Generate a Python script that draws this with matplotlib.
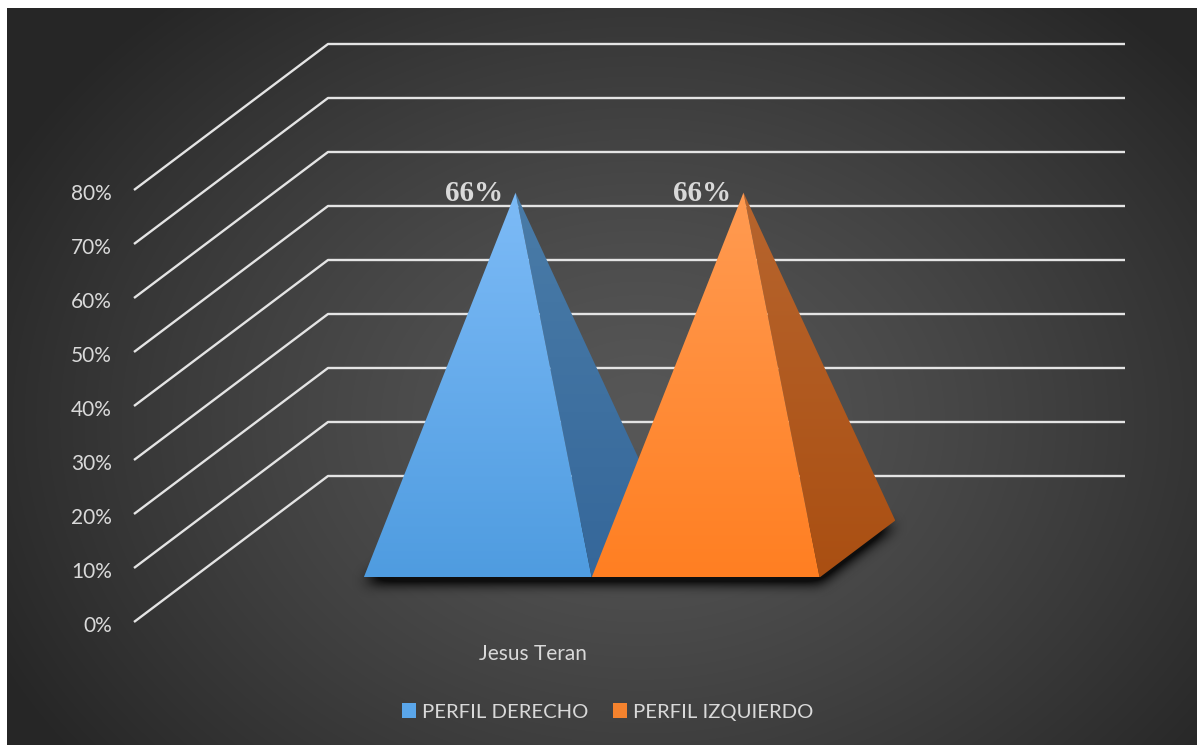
import numpy as np
import matplotlib.pyplot as plt
from matplotlib.path import Path
from matplotlib.patches import Polygon, Rectangle

W, H = 1197, 745

categories = ["Jesus Teran"]
series = ["PERFIL DERECHO", "PERFIL IZQUIERDO"]
values = [0.66, 0.66]
ticks = [0.0, 0.1, 0.2, 0.3, 0.4, 0.5, 0.6, 0.7, 0.8]
tick_labels = ["0%", "10%", "20%", "30%", "40%", "50%", "60%", "70%", "80%"]

# face colours: (top, bottom) for front and side faces
front_cols = [("#7dbbf7", "#4f9ce0"), ("#ff9b52", "#ff7f22")]
side_cols = [("#4a7ca8", "#35679a"), ("#b7652e", "#aa4f12")]
legend_cols = ["#5aa6ea", "#f5832e"]

txt_col = "#d9d9d9"
grid_col = "#e4e4e4"

# oblique 3d frame (pixel space)
x0, y0 = 134, 622          # front-left floor corner
dep = (194, -146)          # depth vector
floor_w = 797              # width along category axis
vscale = 540               # pixels per 1.0 of value

pyr_w = 0.286              # pyramid base width, fraction of floor width
pyr_d = 0.39               # pyramid base depth, fraction of floor depth


def proj(u, d, v):
    return (x0 + u * floor_w + d * dep[0],
            y0 - v * vscale + d * dep[1])


def gradient_fill(ax, pts, top, bottom, z):
    pts = np.array(pts)
    xa, xb = pts[:, 0].min(), pts[:, 0].max()
    ya, yb = pts[:, 1].min(), pts[:, 1].max()
    c1 = np.array(plt.matplotlib.colors.to_rgb(top))
    c2 = np.array(plt.matplotlib.colors.to_rgb(bottom))
    t = np.linspace(0, 1, 200)[:, None]
    img = (c1 * (1 - t) + c2 * t)[:, None, :]
    im = ax.imshow(img, extent=(xa, xb, yb, ya), aspect='auto',
                   zorder=z, interpolation='bilinear')
    poly = Polygon(pts, closed=True, facecolor='none', edgecolor='none')
    ax.add_patch(poly)
    im.set_clip_path(poly)


def box_blur(a, r):
    for axis in (0, 1):
        for _ in range(3):
            c = np.cumsum(np.pad(a, [(r + 1, r) if i == axis else (0, 0)
                                     for i in range(2)], mode='edge'), axis=axis)
            if axis == 0:
                a = (c[2 * r + 1:] - c[:-2 * r - 1]) / (2 * r + 1)
            else:
                a = (c[:, 2 * r + 1:] - c[:, :-2 * r - 1]) / (2 * r + 1)
    return a


fig = plt.figure(figsize=(W / 100, H / 100), dpi=100)
ax = fig.add_axes([0, 0, 1, 1])
ax.set_xlim(0, W)
ax.set_ylim(H, 0)
ax.axis('off')

# dark radial background
yy, xx = np.mgrid[0:H, 0:W]
r = np.sqrt(((xx - 640) / 720.0) ** 2 + ((yy - 420) / 560.0) ** 2)
r = np.clip(r, 0, 1) ** 1.3
light, dark = 0x57 / 255, 0x26 / 255
bg = light - (light - dark) * r
bg = np.dstack([bg, bg, bg])
bg[:8, :, :] = 1.0
bg[:, :7, :] = 1.0
ax.imshow(bg, extent=(0, W, H, 0), zorder=0, interpolation='bilinear')

# gridlines: floor edge, back wall
for v, lab in zip(ticks, tick_labels):
    p0 = proj(0, 0, v)
    p1 = proj(0, 1, v)
    p2 = proj(1, 1, v)
    ax.plot([p0[0], p1[0], p2[0]], [p0[1], p1[1], p2[1]],
            color=grid_col, lw=1.7, zorder=2, solid_capstyle='butt')
    ax.text(p0[0] - 22, p0[1] + 4, lab, ha='right', va='center',
            fontsize=15, color=txt_col, family='Lato')

# pyramids
n = len(series)
u_start = 0.5 - n * pyr_w / 2
da, db = 0.5 - pyr_d / 2, 0.5 + pyr_d / 2

# soft shadow under the bases
base = [proj(u_start, da, 0), proj(u_start + n * pyr_w, da, 0),
        proj(u_start + n * pyr_w, db, 0), proj(u_start, db, 0)]
inside = Path(base).contains_points(np.c_[xx.ravel() + 0.5, yy.ravel() - 4])
mask = inside.reshape(H, W).astype(float)
mask = box_blur(mask, 6)
shadow = np.zeros((H, W, 4))
shadow[..., 3] = np.clip(mask * 1.5, 0, 0.8)
ax.imshow(shadow, extent=(0, W, H, 0), zorder=3, interpolation='bilinear')

for i, v in enumerate(values):
    ua = u_start + i * pyr_w
    ub = ua + pyr_w
    fl = proj(ua, da, 0)
    fr = proj(ub, da, 0)
    br = proj(ub, db, 0)
    apex = proj((ua + ub) / 2, 0.5, v)
    gradient_fill(ax, [fr, br, apex], side_cols[i][0], side_cols[i][1], 4 + 2 * i)
    gradient_fill(ax, [fl, fr, apex], front_cols[i][0], front_cols[i][1], 5 + 2 * i)
    ax.text(apex[0] - 12, apex[1] + 1, f"{v:.0%}", ha='right', va='center',
            fontsize=21, fontweight='bold', color=txt_col,
            family='Liberation Serif', zorder=10)

# category label
cx, cy = proj(0.5, 0, 0)
ax.text(cx, cy + 32, categories[0], ha='center', va='center',
        fontsize=15, color=txt_col, family='Lato')

# legend
handles = [Rectangle((0, 0), 1, 1, facecolor=c, edgecolor='none') for c in legend_cols]
leg = ax.legend(handles, series, loc='center', bbox_to_anchor=(608 / W, 1 - 712 / H),
                ncol=2, frameon=False, handlelength=0.7, handleheight=0.7,
                handletextpad=0.3, columnspacing=1.2,
                prop={'family': 'Lato', 'size': 14.6})
for t in leg.get_texts():
    t.set_color(txt_col)

fig.savefig("out.png", dpi=100)
